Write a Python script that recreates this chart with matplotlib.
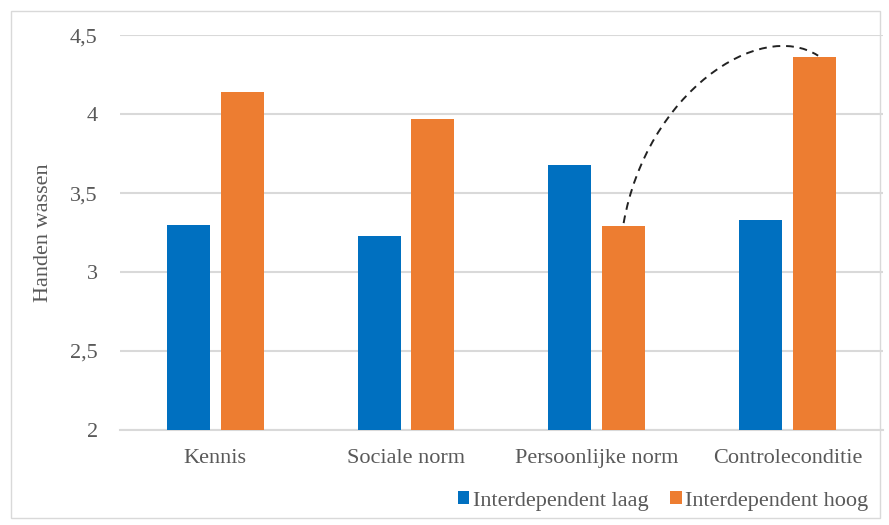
import numpy as np
import matplotlib.pyplot as plt
from matplotlib.patches import Rectangle, PathPatch
from matplotlib.path import Path

categories = ['Kennis', 'Sociale norm', 'Persoonlijke norm', 'Controleconditie']
laag = [3.30, 3.23, 3.68, 3.33]
hoog = [4.14, 3.97, 3.29, 4.36]
yticks = [2, 2.5, 3, 3.5, 4, 4.5]
ytick_labels = ['2', '2,5', '3', '3,5', '4', '4,5']

plt.rcParams['font.family'] = ['Liberation Serif', 'DejaVu Serif']
grey = '#595959'

fig = plt.figure(figsize=(8.89, 5.25), dpi=100)
ax = fig.add_axes([0.135, 0.181, 0.858, 0.752])

x = np.arange(len(categories))
w = 0.225
off = 0.141
ax.bar(x - off, laag, w, color='#0070C0', label='Interdependent laag', zorder=3)
ax.bar(x + off, hoog, w, color='#ED7D31', label='Interdependent hoog', zorder=3)

ax.set_ylim(2, 4.5)
ax.set_xlim(-0.5, 3.5)
ax.set_yticks(yticks)
ax.set_yticklabels(ytick_labels)
ax.set_xticks(x)
ax.set_xticklabels(categories)
ax.tick_params(axis='both', length=0, labelsize=16, labelcolor=grey)
ax.tick_params(axis='y', pad=16)
ax.tick_params(axis='x', pad=14)
ax.yaxis.grid(True, color='#d9d9d9', linewidth=1.5, zorder=0)
for s in ['top', 'right', 'left']:
    ax.spines[s].set_visible(False)
ax.spines['bottom'].set_color('#d9d9d9')
ax.spines['bottom'].set_linewidth(1.5)
ax.set_ylabel('Handen wassen', fontsize=16, color=grey, labelpad=12)

# dashed curve from the Persoonlijke norm bar to the Controleconditie bar
p0 = (2 + off, hoog[2] + 0.02)
p3 = (3 + off + 0.02, hoog[3] + 0.01)
p1 = (p0[0] + 0.12, p0[1] + 0.82)
p2 = (p3[0] - 0.31, p3[1] + 0.24)
curve = Path([p0, p1, p2, p3], [Path.MOVETO, Path.CURVE4, Path.CURVE4, Path.CURVE4])
ax.add_patch(PathPatch(curve, fill=False, edgecolor='#222222', linewidth=1.4,
                       linestyle=(0, (4, 3)), zorder=4, clip_on=False))

ax.legend(loc='upper center', bbox_to_anchor=(0.712, -0.105), ncol=2, frameon=False,
          fontsize=16, labelcolor=grey, handlelength=0.5, handleheight=0.5,
          handletextpad=0.15, columnspacing=1.0)

fig.patches.append(Rectangle((11 / 889, 7 / 525), 869 / 889, 507 / 525,
                             transform=fig.transFigure, fill=False,
                             edgecolor='#d9d9d9', linewidth=1))

fig.savefig('out.png', dpi=100)
